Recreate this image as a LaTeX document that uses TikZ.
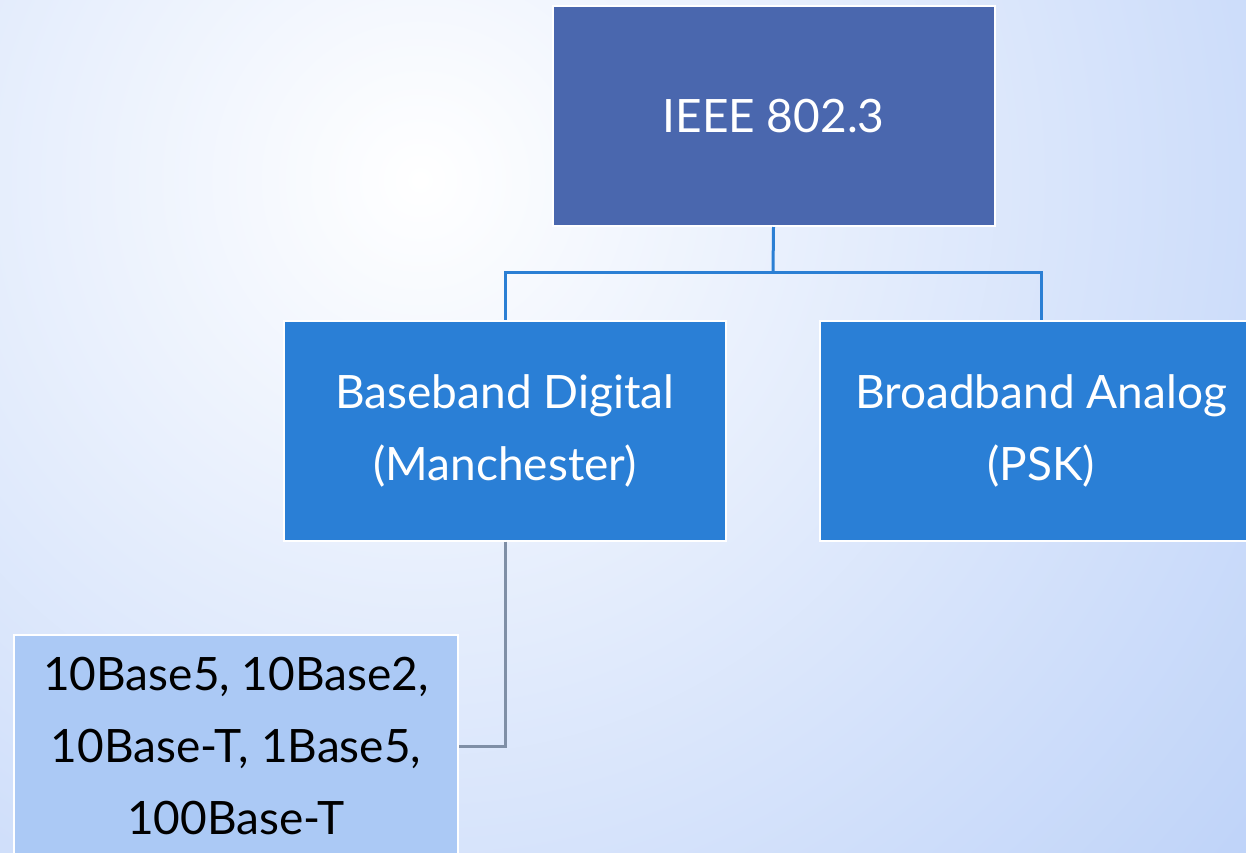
\documentclass[tikz,border=0pt]{standalone}
\usepackage{fontspec}
\setmainfont{Lato}
\definecolor{topblue}{HTML}{4A67AE}
\definecolor{midblue}{HTML}{2A7FD6}
\definecolor{leafblue}{HTML}{ABC9F5}
\definecolor{connblue}{HTML}{2B7FD4}
\definecolor{conngray}{HTML}{7F8FA6}
\definecolor{bgblue}{HTML}{BAD0F8}
\begin{document}
\begin{tikzpicture}[x=1pt,y=-1pt,
  box/.style={draw=white, line width=2pt, minimum width=442pt, minimum height=220pt,
    align=center, inner sep=0pt, font=\fontsize{46}{72}\selectfont},
  conn/.style={line width=3pt},
]
\useasboundingbox (0,0) rectangle (1246,852);
\begin{scope}
\clip (0,0) rectangle (1246,852);
\fill[bgblue] (0,0) rectangle (1246,852);
\shade[inner color=white, outer color=bgblue] (420,180) circle (1150);
\end{scope}
\node[box, fill=topblue, text=white] (top) at (773.5,116) {IEEE 802.3};
\node[box, fill=midblue, text=white] (base) at (505,430.5) {Baseband Digital\\(Manchester)};
\node[box, fill=midblue, text=white] (broad) at (1041,430.5) {Broadband Analog\\(PSK)};
\node[box, fill=leafblue, text=black, minimum width=444pt, minimum height=222pt] (leaf) at (236,746) {10Base5, 10Base2,\\10Base-T, 1Base5,\\100Base-T};
\coordinate (mid) at (773,272);
\draw[conn, connblue] (top.south) -- (mid);
\draw[conn, connblue] (mid) -| (base.north);
\draw[conn, connblue] (mid) -| (broad.north);
\draw[conn, conngray] (base.south) |- (leaf.east);
\end{tikzpicture}
\end{document}
